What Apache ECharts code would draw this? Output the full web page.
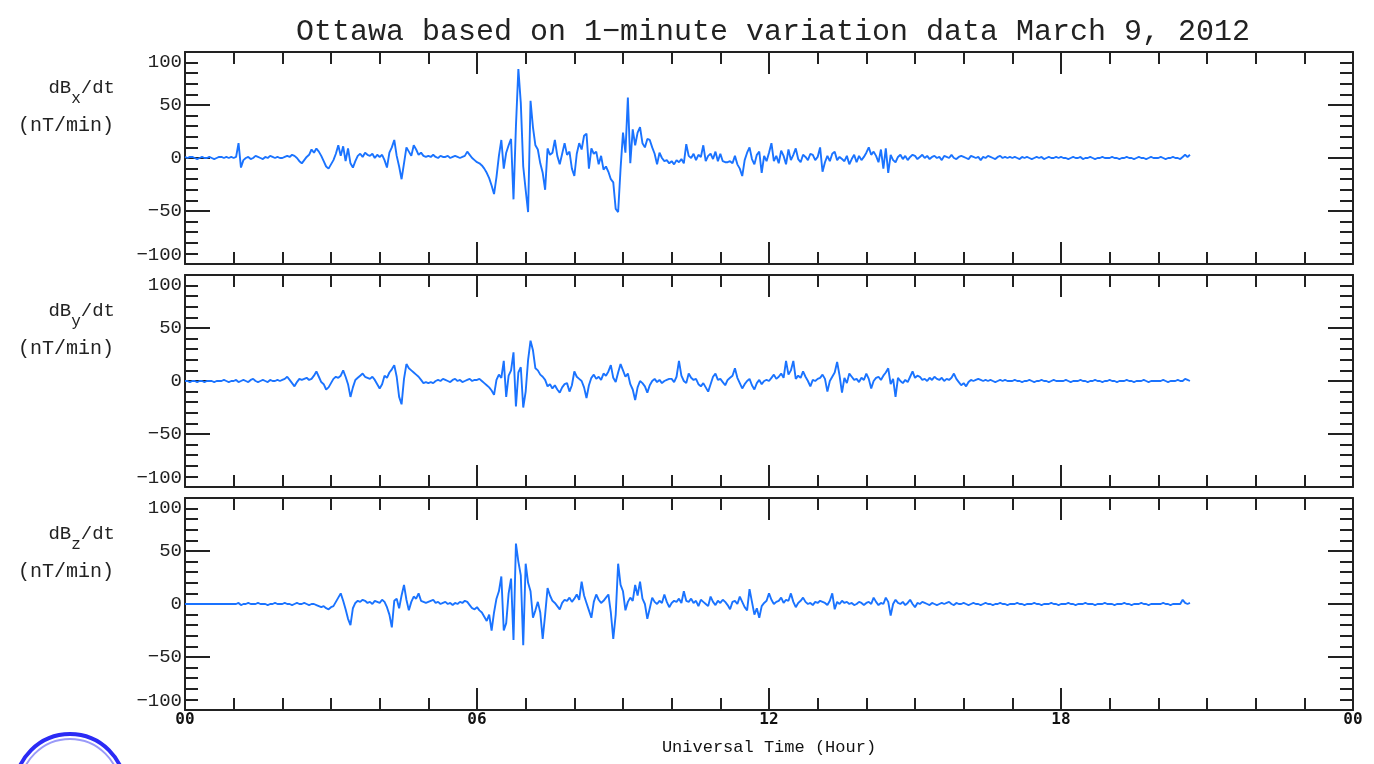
<!DOCTYPE html>
<html>
<head>
<meta charset="utf-8">
<script src="https://cdn.jsdelivr.net/npm/echarts@6/dist/echarts.min.js"></script>
<style>
  html, body { margin: 0; padding: 0; background: #fff; }
  #chart { width: 1374px; height: 764px; }
</style>
</head>
<body>
<div id="chart"></div>
<script>
// 3-minute samples (20 per hour), starting at 00 UT
var STEP_H = 0.05;
var HOUR_LABELS = ['00', '06', '12', '18', '00'];
var Y_LABELS = ['\u2212100', '\u221250', '0', '50', '100'];
var PANEL_NAMES = ['x', 'y', 'z'];

var DBX = [].concat(
    [1,0,1,1,0,-1,0,1,0,0,1,0,-1,0,1,1,0,1,0,1],
    [0,1,14,-9,-2,0,1,-1,0,2,1,0,-1,1,0,2,1,0,1,0],
    [0,1,2,1,3,2,0,-3,-5,-2,1,3,8,5,9,6,2,-3,-8,-10],
    [-6,-2,4,12,2,11,-3,9,-5,-9,-3,2,4,1,5,3,2,4,0,3],
    [1,3,-2,-9,5,10,17,2,-8,-20,-5,10,6,2,12,8,3,5,2,1],
    [2,1,3,1,0,2,1,1,2,0,1,2,1,0,1,2,6,3,0,-2],
    [-4,-5,-7,-10,-14,-19,-26,-34,-18,2,17,-10,5,12,18,-39,30,84,52,-8],
    [-30,-51,54,29,12,8,-5,-14,-30,9,3,5,17,2,-6,4,14,3,6,-10],
    [-17,4,14,8,21,23,-10,9,4,6,-6,2,-11,-8,-13,-20,-23,-48,-51,-10],
    [24,5,57,-5,27,12,24,29,14,10,18,17,10,4,-6,5,0,-3,-2,-5],
    [-3,-6,-2,-4,-1,-5,13,2,0,4,-2,3,1,12,-3,2,4,-1,6,-3],
    [4,-3,-4,-4,-3,-5,2,-6,-10,-17,-2,5,10,-1,-6,3,6,-14,2,-3],
    [5,14,-3,2,-5,7,2,-6,8,-2,3,9,-1,-4,3,1,-2,4,3,-2],
    [1,10,-13,-4,2,-3,4,6,-2,1,-1,-3,2,-6,-1,3,-4,2,-2,1],
    [5,10,3,6,2,-4,8,-10,9,-14,3,-2,-4,1,3,-1,2,-2,1,3],
    [2,-1,1,3,0,2,-1,1,2,0,1,-2,2,1,0,3,0,-1,1,2],
    [1,0,-1,2,1,0,1,-2,1,0,2,1,0,-1,1,2,0,1,0,1],
    [0,1,0,-1,1,0,1,0,-1,0,1,0,1,-1,0,1,0,0,1,0],
    [1,0,0,-1,0,1,0,0,1,-1,0,0,1,0,-1,0,0,1,0,0],
    [0,1,0,0,-1,0,0,1,0,0,-1,0,1,0,0,-1,0,1,0,0],
    [0,1,0,-1,0,0,1,0,0,-1,1,3,1,3]
);

var DBY = [].concat(
    [0,0,-1,0,0,-1,0,0,-1,0,0,0,-1,0,0,0,1,0,-1,0],
    [0,1,-1,0,1,0,-1,1,2,0,-1,0,1,0,-1,1,0,0,1,0],
    [1,2,4,1,-2,-5,-1,2,1,2,3,1,2,5,9,4,-1,-3,-8,-6],
    [-2,2,4,3,5,10,4,-3,-15,-6,1,3,5,7,4,3,2,4,1,-3],
    [-7,-3,5,3,8,11,15,4,-15,-22,2,16,12,10,8,6,4,1,-2,-1],
    [-2,-1,-2,0,1,0,2,1,0,-1,1,2,0,1,-1,0,1,2,0,1],
    [1,2,0,-2,-4,-6,-9,-13,1,6,3,19,-15,5,10,27,-24,8,13,-25],
    [-10,20,38,29,12,10,6,4,1,-5,-3,-7,-4,-8,-11,-6,-3,-2,-10,-4],
    [9,4,2,0,-6,-16,-4,3,6,2,4,1,7,5,9,15,3,-1,8,16],
    [10,4,7,-3,-8,-18,-6,0,-2,-5,-11,-4,0,2,-1,1,-2,0,1,2],
    [2,-1,4,19,5,0,-2,7,3,1,2,-3,-5,-2,-6,-10,-3,4,7,1],
    [2,-1,-4,1,3,5,12,3,-2,-7,-3,0,2,-4,-8,-2,1,-3,0,1],
    [0,3,6,2,4,7,3,19,6,10,19,2,5,3,9,4,0,-5,1,0],
    [2,3,6,2,-10,0,4,8,18,5,-11,3,-2,7,4,1,2,-1,3,1],
    [7,2,-7,0,3,4,1,5,8,12,-3,2,-15,3,0,-2,1,-1,4,9],
    [3,5,4,1,2,0,3,1,4,2,1,3,0,2,1,3,7,2,-1,-4],
    [-2,-5,-1,1,0,1,2,1,0,1,0,1,0,-1,0,1,0,1,0,0],
    [0,1,0,0,-1,0,0,1,0,-1,0,0,1,0,0,-1,0,1,0,0],
    [0,0,1,0,-1,0,0,0,1,0,0,-1,0,0,1,0,0,-1,0,0],
    [1,0,0,-1,0,0,0,1,0,0,-1,0,0,0,1,0,-1,0,0,0],
    [0,0,1,0,-1,0,0,0,1,0,0,2,1,0]
);

var DBZ = [].concat(
    [0,0,0,0,0,0,0,0,0,0,0,0,0,0,0,0,0,0,0,0],
    [0,0,1,-1,0,0,1,0,0,0,1,0,0,0,-1,0,0,1,0,0],
    [0,1,0,0,-1,0,1,0,0,1,0,-1,0,0,-1,-2,-3,-2,-4,-5],
    [-3,-2,2,6,10,3,-5,-14,-20,-4,1,3,2,4,3,1,2,0,3,2],
    [1,4,2,-3,-10,-22,3,5,-4,8,18,4,-6,2,7,5,10,3,2,1],
    [2,3,4,1,2,0,1,2,0,1,-1,1,0,2,1,3,2,-1,-4,-5],
    [-3,-6,-8,-12,-16,-10,-25,-8,5,12,26,-25,-18,10,24,-34,57,40,27,-39],
    [38,20,12,-13,-6,2,-8,-33,-10,15,8,3,1,-2,-5,1,4,3,6,2],
    [5,9,4,21,8,1,-6,-13,2,9,4,1,3,6,9,-8,-33,-10,38,18],
    [12,-6,2,6,3,18,8,21,5,0,-14,-4,6,2,0,3,1,9,2,-3],
    [1,3,2,5,1,12,3,2,5,1,3,-2,4,2,0,-2,7,2,-1,3],
    [1,4,2,-1,-5,2,3,0,7,2,-3,-6,14,2,-10,-4,-13,-2,1,3],
    [10,4,0,2,3,6,1,4,3,10,2,-3,1,3,6,2,0,1,-1,2],
    [1,3,2,1,-1,3,10,-5,2,0,3,1,2,0,1,-1,0,2,1,-1],
    [1,2,0,6,2,-1,1,0,6,2,-11,0,4,1,0,2,-1,1,4,0],
    [-3,1,0,2,1,0,-1,1,0,-1,0,1,0,1,2,0,-1,1,0,0],
    [1,0,-1,0,1,0,0,-1,0,1,0,0,-1,0,0,1,0,0,-1,0],
    [0,0,1,0,0,-1,0,0,0,1,0,0,-1,0,0,0,1,0,0,-1],
    [0,0,0,1,0,0,-1,0,0,0,1,0,0,0,-1,0,0,0,1,0],
    [0,0,-1,0,0,0,1,0,0,-1,0,0,0,1,0,0,-1,0,0,0],
    [0,0,1,0,0,-1,0,0,0,0,4,1,0,1]
);

var SERIES_DATA = [DBX, DBY, DBZ];

var chart = echarts.init(document.getElementById('chart'));

var LEFT = 185, WIDTH = 1168, HEIGHT = 212;
var TOPS = [52, 275, 498];
var INK = '#222';
var LINE_BLUE = '#1a73ff';
var FONT = 'Liberation Mono';

var grids = [], xAxes = [], yAxes = [], series = [], graphics = [];

function xAxisCfg(i, pos, showLabel) {
    return {
        type: 'value', gridIndex: i, position: pos,
        min: 0, max: 24, interval: 6,
        axisLine: { show: true, onZero: false, lineStyle: { color: INK, width: 2 } },
        axisTick: { show: true, inside: true, length: 22, lineStyle: { color: INK, width: 2 } },
        minorTick: { show: true, splitNumber: 6, length: 12, lineStyle: { color: INK, width: 2 } },
        splitLine: { show: false },
        axisLabel: {
            show: showLabel, margin: 2, color: '#111', fontSize: 16,
            fontFamily: 'DejaVu Sans Mono', fontWeight: 'bold',
            formatter: function (v) { return HOUR_LABELS[Math.round(v / 6)]; }
        },
        name: showLabel ? 'Universal Time (Hour)' : '',
        nameLocation: 'middle', nameGap: 29,
        nameTextStyle: { color: '#111', fontSize: 17, fontFamily: FONT }
    };
}

function yAxisCfg(i, pos, showLabel) {
    return {
        type: 'value', gridIndex: i, position: pos,
        min: -100, max: 100, interval: 50,
        axisLine: { show: true, onZero: false, lineStyle: { color: INK, width: 2 } },
        axisTick: { show: true, inside: true, length: 25, lineStyle: { color: INK, width: 2 } },
        minorTick: { show: true, splitNumber: 5, length: 13, lineStyle: { color: INK, width: 2 } },
        splitLine: { show: false },
        axisLabel: {
            show: showLabel, margin: 3, color: '#222', fontSize: 19,
            fontFamily: FONT,
            verticalAlignMaxLabel: 'top', verticalAlignMinLabel: 'bottom',
            formatter: function (v) { return Y_LABELS[Math.round((v + 100) / 50)]; }
        }
    };
}

for (var i = 0; i < 3; i++) {
    grids.push({ left: LEFT, top: TOPS[i], width: WIDTH, height: HEIGHT });
    yAxes.push(yAxisCfg(i, 'left', true));
    xAxes.push(xAxisCfg(i, 'bottom', i === 2));
    series.push({
        type: 'line', xAxisIndex: i, yAxisIndex: i,
        showSymbol: false, symbol: 'none', silent: true,
        lineStyle: { color: LINE_BLUE, width: 1.9 },
        data: SERIES_DATA[i].map(function (v, k) { return [k * STEP_H, v]; })
    });
    graphics.push({
        type: 'text', x: 115, y: TOPS[i] + 36,
        style: {
            text: '{m|dB}{s|' + PANEL_NAMES[i] + '}{m|/dt}',
            align: 'right', verticalAlign: 'middle', fill: '#222',
            rich: {
                m: { fontSize: 19, fontFamily: FONT, fill: '#222' },
                s: { fontSize: 16, fontFamily: FONT, fill: '#222', padding: [22, 0, 0, 0] }
            }
        }
    });
    graphics.push({
        type: 'text', x: 114, y: TOPS[i] + 74,
        style: {
            text: '(nT/min)', align: 'right', verticalAlign: 'middle',
            fill: '#222', fontSize: 20, fontFamily: FONT
        }
    });
}
// top and right frame axes (ticks only)
for (var j = 0; j < 3; j++) {
    xAxes.push(xAxisCfg(j, 'top', false));
    yAxes.push(yAxisCfg(j, 'right', false));
}

// logo ring, bottom left (partly cut off)
graphics.push({
    type: 'circle', shape: { cx: 70, cy: 789, r: 55 },
    style: { fill: 'none', stroke: '#2b2bf5', lineWidth: 4 }
});
graphics.push({
    type: 'circle', shape: { cx: 70, cy: 789, r: 50 },
    style: { fill: 'none', stroke: '#9a9af8', lineWidth: 2 }
});

var option = {
    backgroundColor: '#fff',
    animation: false,
    title: {
        text: 'Ottawa based on 1\u2212minute variation data March 9, 2012',
        left: 768, top: 12, textAlign: 'center',
        textStyle: { color: '#222', fontSize: 30, fontWeight: 'normal', fontFamily: FONT }
    },
    grid: grids,
    xAxis: xAxes,
    yAxis: yAxes,
    series: series,
    graphic: graphics
};
chart.setOption(option);
</script>
</body>
</html>
